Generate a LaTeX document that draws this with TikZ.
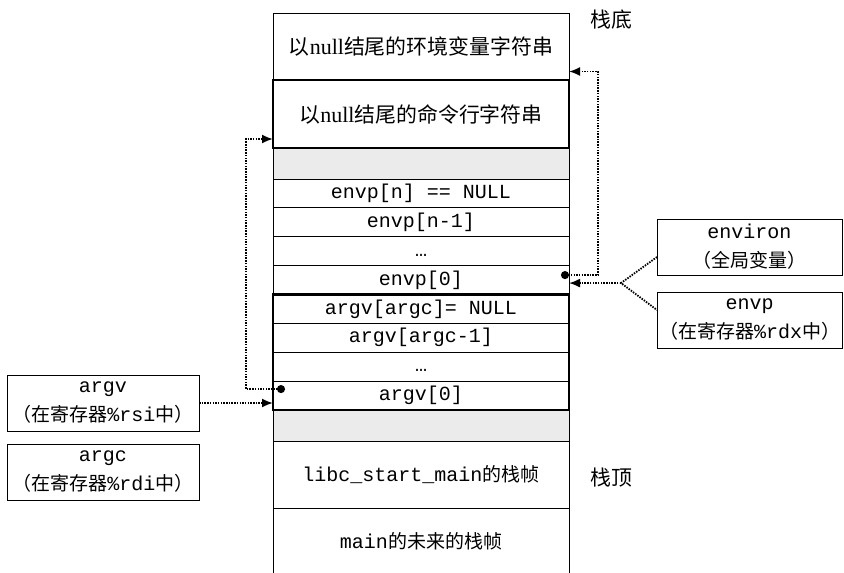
\documentclass[tikz,border=0pt]{standalone}
\usepackage{fontspec}
\setmainfont{Liberation Serif}
\setmonofont{Liberation Mono}
\newfontfamily\cjk[Scale=0.95]{Noto Sans CJK SC}
\newcommand{\zh}[1]{{\cjk #1}}
\usetikzlibrary{arrows.meta,positioning,calc}

\begin{document}
\begin{tikzpicture}[
x=1pt, y=-1pt,
node distance=0pt,
cell/.style={draw, line width=1pt, outer sep=0pt, inner sep=0pt, minimum width=296pt, minimum height=28.875pt, font=\fontsize{20}{24}\selectfont\ttfamily},
tallcell/.style={cell, minimum height=67pt},
gapcell/.style={cell, minimum height=31pt, fill=black!8},
strcell/.style={tallcell, font=\fontsize{22}{24}\selectfont\rmfamily},
groupbox/.style={draw, line width=2.2pt},
regbox/.style={draw, line width=1pt, outer sep=0pt, inner sep=0pt, minimum height=56pt, align=center, font=\fontsize{20}{29}\selectfont\ttfamily},
endlabel/.style={font=\fontsize{22}{24}\selectfont\cjk},
ptrline/.style={line width=1.8pt, dash pattern=on 1.5pt off 1.2pt},
ptr/.style={ptrline, -{Latex[length=11pt,width=9pt]}},
dotptr/.style={ptrline, {Circle[length=8pt]}-{Latex[length=11pt,width=9pt]}}
]
\useasboundingbox (0,0) rectangle (844,573);

% the stack, bottom of the stack at the top
\node[strcell] (envstr) at (421,46.5) {\zh{以}null\zh{结尾的环境变量字符串}};
\node[strcell, minimum height=68pt, below=of envstr] (cmdstr) {\zh{以}null\zh{结尾的命令行字符串}};
\node[gapcell, below=of cmdstr] (gapa) {};
\node[cell, below=of gapa] (envpn) {envp[n] == NULL};
\node[cell, below=of envpn] (envpn1) {envp[n-1]};
\node[cell, below=of envpn1] (envpdots) {\vphantom{[}\ldots};
\node[cell, below=of envpdots] (envp0) {envp[0]};
\node[cell, below=of envp0] (argvnull) {argv[argc]= NULL};
\node[cell, below=of argvnull] (argvlast) {argv[argc-1]};
\node[cell, below=of argvlast] (argvdots) {\vphantom{[}\ldots};
\node[cell, below=of argvdots] (argv0) {argv[0]};
\node[gapcell, below=of argv0] (gapb) {};
\node[tallcell, below=of gapb] (libc) {libc\_start\_main\zh{的栈帧}};
\node[tallcell, below=of libc] (mainf) {main\zh{的未来的栈帧}};
\draw[groupbox] (cmdstr.north west) rectangle (cmdstr.south east);
\draw[groupbox] (argvnull.north west) rectangle (argv0.south east);

\node[endlabel] (bottomlbl) at (611,20) {栈底};
\node[endlabel] (toplbl) at (611,478) {栈顶};

% registers and globals
\node[regbox, minimum width=185pt] (environ) at (749.5,247) {environ\\\zh{（全局变量）}};
\node[regbox, minimum width=185pt, below=17pt of environ] (envpreg) {envp\\\zh{（在寄存器}\%rdx\zh{中）}};
\node[regbox, minimum width=192pt] (argvreg) at (103,403) {argv\\\zh{（在寄存器}\%rsi\zh{中）}};
\node[regbox, minimum width=192pt, below=13pt of argvreg] (argcreg) {argc\\\zh{（在寄存器}\%rdi\zh{中）}};

% pointers
\coordinate (envdot) at ([xshift=-8pt,yshift=5pt]envp0.east);
\coordinate (envtop) at ([yshift=-25pt]envstr.east);
\coordinate (envturn) at ([xshift=29pt]envtop);
\coordinate (envtip) at ([yshift=-3pt]envp0.east);
\coordinate (envjoin) at ([xshift=52pt]envtip);
\coordinate (argvdot) at ([xshift=12pt,yshift=6.5pt]argv0.west);
\coordinate (cmdtip) at ([yshift=-25pt]cmdstr.west);
\coordinate (argvturn) at ([xshift=-27pt]cmdtip);

\draw[dotptr] (envdot) -| (envturn) -- (envtop);
\draw[ptrline] ([yshift=-10pt]environ.west) -- (envjoin) -- ([yshift=10pt]envpreg.west);
\draw[ptr] (envjoin) -- (envtip);
\draw[ptr] (argvreg.east) -- (argvreg.east -| argv0.west);
\draw[dotptr] (argvdot) -| (argvturn) -- (cmdtip);
\end{tikzpicture}
\end{document}
